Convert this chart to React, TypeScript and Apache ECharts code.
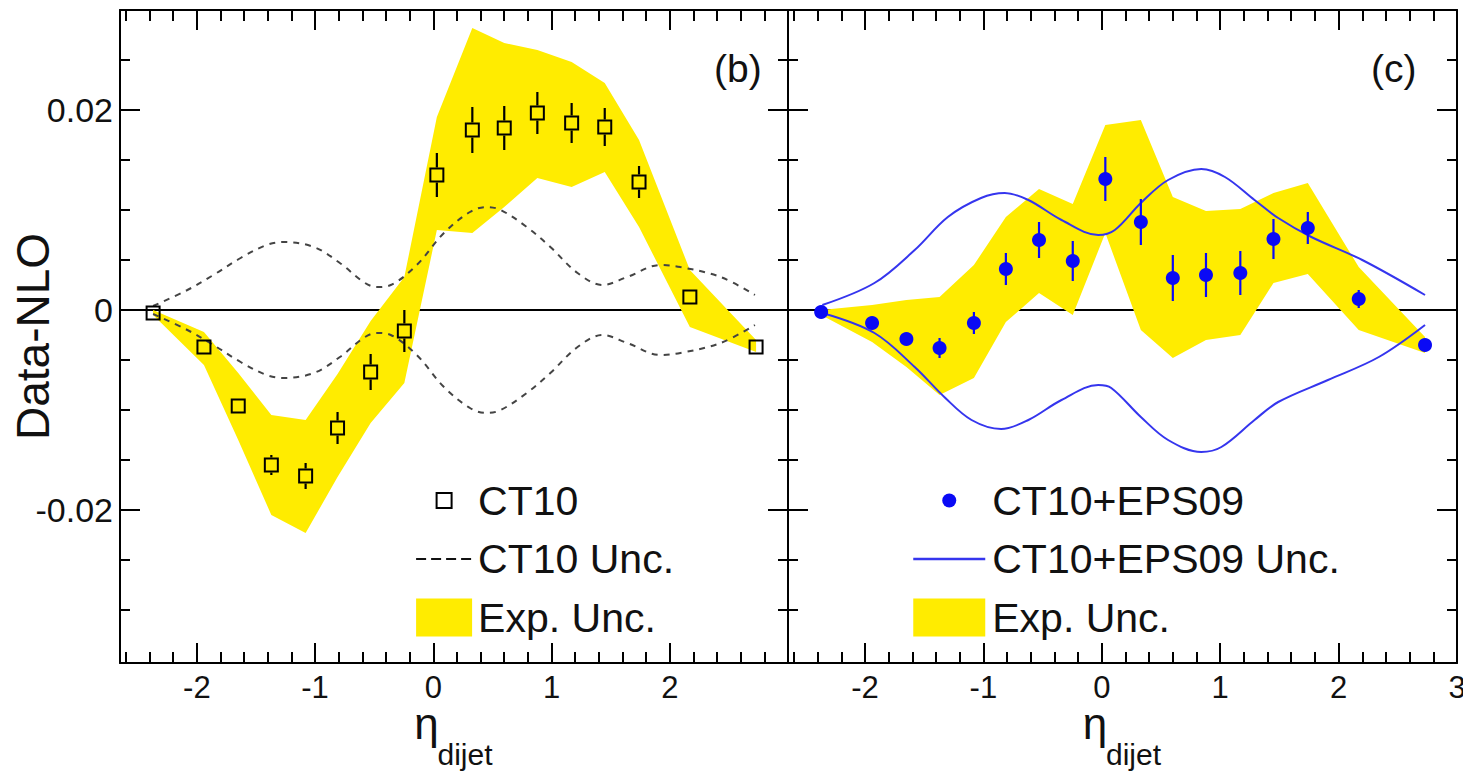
import React, { useEffect, useRef } from 'react';
import * as echarts from 'echarts';

const FONT = '"Liberation Sans", Arial, Helvetica, sans-serif';
const YELLOW = '#FFEC00';
const BLUE = '#0A0AF5';
const BLUE_LINE = '#3535EE';

// ---------- data ----------
// eta_dijet bin positions
const etaBins = [-2.37, -1.94, -1.65, -1.37, -1.08, -0.81, -0.53, -0.245, 0.03, 0.33, 0.6, 0.88, 1.17, 1.45, 1.74, 2.17, 2.73];

// panel (b): Data - NLO (CT10)
const ct10Values = [-0.0003, -0.0037, -0.0096, -0.0155, -0.0166, -0.0118, -0.0062, -0.0021, 0.0135, 0.018, 0.0182, 0.0197, 0.0187, 0.0183, 0.0128, 0.0013, -0.0037];
const ct10StatErr = [0.0005, 0.0005, 0.0005, 0.001, 0.0013, 0.0016, 0.0018, 0.0021, 0.0022, 0.0023, 0.0022, 0.0021, 0.002, 0.0019, 0.0016, 0.0005, 0.0005];
const ct10ExpLow = [-0.0005, -0.0055, -0.013, -0.0205, -0.0223, -0.0167, -0.0113, -0.0073, 0.008, 0.0077, 0.0103, 0.0132, 0.0123, 0.0138, 0.0083, -0.0017, -0.0042];
const ct10ExpHigh = [0.0, -0.0022, -0.0063, -0.0105, -0.011, -0.0064, -0.0011, 0.0033, 0.0193, 0.0282, 0.0267, 0.026, 0.0248, 0.0227, 0.017, 0.004, -0.003];

// CT10 PDF uncertainty (dashed)
const ct10UncX = [-2.37, -2.08, -1.86, -1.63, -1.41, -1.27, -1.01, -0.79, -0.59, -0.48, -0.36, -0.14, 0.09, 0.31, 0.45, 0.57, 0.79, 0.99, 1.22, 1.43, 1.64, 1.92, 2.09, 2.43, 2.72];
const ct10UncUp = [0.0004, 0.002, 0.0035, 0.0052, 0.0065, 0.0068, 0.0063, 0.0047, 0.0028, 0.0023, 0.0025, 0.0045, 0.0077, 0.0098, 0.0103, 0.01, 0.0083, 0.0063, 0.0037, 0.0025, 0.0033, 0.0045, 0.0043, 0.0033, 0.0015];
const ct10UncDown = [-0.0004, -0.002, -0.0035, -0.0052, -0.0065, -0.0068, -0.0063, -0.0047, -0.0028, -0.0023, -0.0025, -0.0045, -0.0077, -0.0098, -0.0103, -0.01, -0.0083, -0.0063, -0.0037, -0.0025, -0.0033, -0.0045, -0.0043, -0.0033, -0.0015];

// panel (c): Data - NLO (CT10+EPS09)
const epsValues = [-0.0002, -0.0013, -0.0029, -0.0038, -0.0013, 0.0041, 0.007, 0.0049, 0.0131, 0.0088, 0.0032, 0.0035, 0.0037, 0.0071, 0.0082, 0.0011, -0.0035];
const epsStatErr = [0.0005, 0.0005, 0.0005, 0.001, 0.0011, 0.0016, 0.0018, 0.002, 0.0022, 0.0023, 0.0023, 0.0022, 0.0022, 0.002, 0.0016, 0.0009, 0.0005];
const epsExpLow = [-0.0005, -0.0032, -0.0057, -0.0085, -0.0068, -0.0012, 0.0017, -0.0005, 0.0077, -0.002, -0.0048, -0.003, -0.0025, 0.0027, 0.0036, -0.002, -0.0043];
const epsExpHigh = [0.0, 0.0005, 0.001, 0.0013, 0.0045, 0.0093, 0.0121, 0.0106, 0.0185, 0.019, 0.0113, 0.0099, 0.0101, 0.0117, 0.0127, 0.0043, -0.0027];

// CT10+EPS09 uncertainty (solid blue)
const epsUncUpX = [-2.36, -1.92, -1.58, -1.3, -1.02, -0.82, -0.62, -0.34, -0.03, 0.11, 0.33, 0.56, 0.84, 1.04, 1.29, 1.49, 1.77, 2.2, 2.73];
const epsUncUp = [0.0005, 0.0027, 0.006, 0.0093, 0.0112, 0.0117, 0.011, 0.009, 0.0075, 0.008, 0.0107, 0.013, 0.0141, 0.0133, 0.011, 0.0092, 0.0073, 0.005, 0.0015];
const epsUncDownX = [-2.36, -1.92, -1.58, -1.33, -1.1, -0.85, -0.62, -0.34, -0.03, 0.08, 0.33, 0.56, 0.84, 1.01, 1.29, 1.49, 1.91, 2.34, 2.73];
const epsUncDown = [-0.0003, -0.0023, -0.0057, -0.0087, -0.011, -0.0119, -0.011, -0.009, -0.0075, -0.0078, -0.0107, -0.013, -0.0142, -0.0137, -0.011, -0.0092, -0.007, -0.0047, -0.0015];

// axes
const X_MIN = -2.65;
const X_MAX = 3.0;
const Y_MIN = -0.0353;
const Y_MAX = 0.03;
const xMajor = [-2, -1, 0, 1, 2, 3];
const xMinor = [-2.6, -2.4, -2.2, -1.8, -1.6, -1.4, -1.2, -0.8, -0.6, -0.4, -0.2, 0.2, 0.4, 0.6, 0.8, 1.2, 1.4, 1.6, 1.8, 2.2, 2.4, 2.6, 2.8];
const xLabelsB = [-2, -1, 0, 1, 2];
const xLabelsC = [-2, -1, 0, 1, 2, 3];
const yMajor = [-0.02, 0, 0.02];
const yMinor = [-0.03, -0.025, -0.015, -0.01, -0.005, 0.005, 0.01, 0.015, 0.025];

// ---------- helpers ----------
const zip = (xs: number[], ys: number[]) => xs.map((x, i) => [x, ys[i]]);
const tri = (xs: number[], a: number[], b: number[]) => xs.map((x, i) => [x, a[i], b[i]]);

function bandSeries(name: string, g: number, rows: number[][]) {
  return {
    type: 'custom',
    name,
    xAxisIndex: g * 4,
    yAxisIndex: g * 4,
    silent: true,
    itemStyle: { color: YELLOW },
    data: rows,
    encode: { x: 0, y: [1, 2] },
    renderItem: (params: any, api: any) => {
      if (params.dataIndex !== 0) return { type: 'group', children: [] };
      const pts: number[][] = [];
      for (let i = 0; i < rows.length; i++) pts.push(api.coord([rows[i][0], rows[i][2]]));
      for (let i = rows.length - 1; i >= 0; i--) pts.push(api.coord([rows[i][0], rows[i][1]]));
      return { type: 'polygon', shape: { points: pts }, style: { fill: YELLOW } };
    },
  };
}

function errorBarSeries(name: string, g: number, rows: number[][], color: string, gap: number) {
  return {
    type: 'custom',
    name,
    xAxisIndex: g * 4,
    yAxisIndex: g * 4,
    silent: true,
    data: rows,
    encode: { x: 0, y: 1 },
    z: 3,
    renderItem: (_p: any, api: any) => {
      const x = api.value(0);
      const y = api.value(1);
      const e = api.value(2);
      const c = api.coord([x, y]);
      const t = api.coord([x, y + e]);
      const b = api.coord([x, y - e]);
      const children: any[] = [];
      const st = { stroke: color, lineWidth: 2.2 };
      if (c[1] - gap > t[1]) children.push({ type: 'line', shape: { x1: c[0], y1: t[1], x2: c[0], y2: c[1] - gap }, style: st });
      if (c[1] + gap < b[1]) children.push({ type: 'line', shape: { x1: c[0], y1: c[1] + gap, x2: c[0], y2: b[1] }, style: st });
      return { type: 'group', children };
    },
  };
}

function lineSeries(name: string, g: number, data: number[][], style: any, withZero: boolean) {
  const s: any = {
    type: 'line',
    name,
    xAxisIndex: g * 4,
    yAxisIndex: g * 4,
    data,
    smooth: 0.35,
    symbol: 'none',
    silent: true,
    lineStyle: style,
    z: 2,
  };
  if (withZero) {
    s.markLine = {
      silent: true,
      symbol: 'none',
      label: { show: false },
      lineStyle: { color: '#000', width: 2, type: 'solid' },
      data: [{ yAxis: 0 }],
      z: 2,
    };
  }
  return s;
}

const axisColor = '#000';
const labelColor = '#111';

function xAxes(g: number, labels: number[]) {
  const base = { gridIndex: g, type: 'value', min: X_MIN, max: X_MAX, splitLine: { show: false }, minorTick: { show: false } };
  const line = { show: true, onZero: false, lineStyle: { color: axisColor, width: 2 } };
  const noLine = { show: false, onZero: false };
  const tickMaj = { show: true, inside: true, length: 20, customValues: xMajor, lineStyle: { color: axisColor, width: 2 } };
  const tickMin = { show: true, inside: true, length: 11, customValues: xMinor, lineStyle: { color: axisColor, width: 2 } };
  return [
    {
      ...base,
      position: 'bottom',
      axisLine: line,
      axisTick: tickMaj,
      axisLabel: {
        show: true,
        customValues: labels,
        formatter: (v: number) => String(v),
        fontSize: 31,
        margin: 9,
        color: labelColor,
        fontFamily: FONT,
      },
      name: 'η',
      nameLocation: 'middle',
      nameGap: 42,
      nameMoveOverlap: false,
      nameTextStyle: { fontSize: 44, lineHeight: 36, color: labelColor, fontFamily: FONT, padding: [0, 55, 0, 0] },
    },
    {
      ...base,
      position: 'bottom',
      axisLine: noLine,
      axisTick: tickMin,
      axisLabel: { show: false },
      name: 'dijet',
      nameLocation: 'middle',
      nameGap: 76,
      nameMoveOverlap: false,
      nameTextStyle: { fontSize: 30, color: labelColor, fontFamily: FONT, padding: [0, 0, 0, 22] },
    },
    { ...base, position: 'top', axisLine: line, axisTick: tickMaj, axisLabel: { show: false } },
    { ...base, position: 'top', axisLine: noLine, axisTick: tickMin, axisLabel: { show: false } },
  ];
}

function yAxes(g: number, withLabels: boolean) {
  const base = { gridIndex: g, type: 'value', min: Y_MIN, max: Y_MAX, splitLine: { show: false }, minorTick: { show: false } };
  const line = { show: true, onZero: false, lineStyle: { color: axisColor, width: 2 } };
  const noLine = { show: false, onZero: false };
  const tickMaj = { show: true, inside: true, length: 20, customValues: yMajor, lineStyle: { color: axisColor, width: 2 } };
  const tickMin = { show: true, inside: true, length: 10, customValues: yMinor, lineStyle: { color: axisColor, width: 2 } };
  const main: any = { ...base, position: 'left', axisLine: line, axisTick: tickMaj, axisLabel: { show: false } };
  if (withLabels) {
    main.axisLabel = {
      show: true,
      customValues: yMajor,
      formatter: (v: number) => (v === 0 ? '0' : v.toFixed(2)),
      fontSize: 34,
      margin: 7,
      color: labelColor,
      fontFamily: FONT,
    };
    main.name = 'Data-NLO';
    main.nameLocation = 'middle';
    main.nameRotate = 90;
    main.nameGap = 64;
    main.nameMoveOverlap = false;
    main.nameTextStyle = { fontSize: 46, color: labelColor, fontFamily: FONT };
  }
  return [
    main,
    { ...base, position: 'left', axisLine: noLine, axisTick: tickMin, axisLabel: { show: false } },
    { ...base, position: 'right', axisLine: line, axisTick: tickMaj, axisLabel: { show: false } },
    { ...base, position: 'right', axisLine: noLine, axisTick: tickMin, axisLabel: { show: false } },
  ];
}

const ct10Rows = tri(etaBins, ct10Values, ct10StatErr);
const epsRows = tri(etaBins, epsValues, epsStatErr);

const legendText = { fontSize: 41, color: labelColor, fontFamily: FONT, lineHeight: 38 };

const option: any = {
  animation: false,
  backgroundColor: '#fff',
  textStyle: { fontFamily: FONT },
  title: [
    { text: '(b)', left: 709, top: 44, textStyle: { fontSize: 39, fontWeight: 'normal', color: labelColor, fontFamily: FONT } },
    { text: '(c)', left: 1366, top: 44, textStyle: { fontSize: 39, fontWeight: 'normal', color: labelColor, fontFamily: FONT } },
  ],
  grid: [
    { left: 120, top: 10, width: 668, height: 653, containLabel: false, outerBoundsMode: 'none' },
    { left: 788, top: 10, width: 669, height: 653, containLabel: false, outerBoundsMode: 'none' },
  ],
  xAxis: [...xAxes(0, xLabelsB), ...xAxes(1, xLabelsC)],
  yAxis: [...yAxes(0, true), ...yAxes(1, false)],
  legend: [
    {
      left: 410,
      top: 475,
      orient: 'vertical',
      itemWidth: 56,
      itemHeight: 38,
      itemGap: 17.5,
      selectedMode: false,
      textStyle: { ...legendText, padding: [0, 0, 0, 1] },
      data: [
        { name: 'CT10', icon: 'path://M0 0M56 38M20.5 11.5h15v15h-15z', itemStyle: { color: 'rgba(0,0,0,0)', borderColor: '#000', borderWidth: 2 } },
        { name: 'CT10 Unc.', icon: 'path://M0 0M56 38M-1 19H57', itemStyle: { color: 'rgba(0,0,0,0)', borderColor: '#111', borderWidth: 2.2, borderType: [10, 5] } },
        { name: 'Exp. Unc.', icon: 'rect', itemStyle: { color: YELLOW, borderWidth: 0 } },
      ],
    },
    {
      left: 907,
      top: 475,
      orient: 'vertical',
      itemWidth: 72,
      itemHeight: 38,
      itemGap: 17.5,
      selectedMode: false,
      textStyle: { ...legendText, padding: [0, 0, 0, 2] },
      data: [
        { name: 'CT10+EPS09', icon: 'path://M0 0M72 38M29 19a7 7 0 1 0 14 0a7 7 0 1 0 -14 0z', itemStyle: { color: BLUE, borderWidth: 0 } },
        { name: 'CT10+EPS09 Unc.', icon: 'path://M0 0M72 38M-2 19H74', itemStyle: { color: 'rgba(0,0,0,0)', borderColor: BLUE_LINE, borderWidth: 2.5 } },
        { name: 'Exp. Unc.', icon: 'rect', itemStyle: { color: YELLOW, borderWidth: 0 } },
      ],
    },
  ],
  series: [
    // panel (b)
    bandSeries('Exp. Unc.', 0, tri(etaBins, ct10ExpLow, ct10ExpHigh)),
    lineSeries('CT10 Unc.', 0, zip(ct10UncX, ct10UncUp), { color: '#444', width: 2, type: [6, 6] }, true),
    lineSeries('CT10 Unc.', 0, zip(ct10UncX, ct10UncDown), { color: '#444', width: 2, type: [6, 6] }, false),
    {
      type: 'scatter',
      name: 'CT10',
      xAxisIndex: 0,
      yAxisIndex: 0,
      symbol: 'rect',
      symbolSize: 13,
      silent: true,
      z: 4,
      itemStyle: { color: 'rgba(0,0,0,0)', borderColor: '#000', borderWidth: 2, opacity: 1 },
      data: zip(etaBins, ct10Values),
    },
    errorBarSeries('CT10 stat', 0, ct10Rows, '#000', 7.5),
    // panel (c)
    bandSeries('Exp. Unc.', 1, tri(etaBins, epsExpLow, epsExpHigh)),
    lineSeries('CT10+EPS09 Unc.', 1, zip(epsUncUpX, epsUncUp), { color: BLUE_LINE, width: 2, type: 'solid' }, true),
    lineSeries('CT10+EPS09 Unc.', 1, zip(epsUncDownX, epsUncDown), { color: BLUE_LINE, width: 2, type: 'solid' }, false),
    errorBarSeries('CT10+EPS09 stat', 1, epsRows, BLUE, 0),
    {
      type: 'scatter',
      name: 'CT10+EPS09',
      xAxisIndex: 4,
      yAxisIndex: 4,
      symbol: 'circle',
      symbolSize: 14,
      silent: true,
      z: 4,
      itemStyle: { color: BLUE, opacity: 1 },
      data: zip(etaBins, epsValues),
    },
  ],
};

export default function App() {
  const ref = useRef<HTMLDivElement>(null);
  useEffect(() => {
    const chart = echarts.init(ref.current as HTMLDivElement, null, { renderer: 'svg' });
    chart.setOption(option);
    return () => chart.dispose();
  }, []);
  return (
    <div
      ref={ref}
      style={{ position: 'absolute', left: 0, top: 0, width: 1463, height: 772, background: '#fff' }}
    />
  );
}
